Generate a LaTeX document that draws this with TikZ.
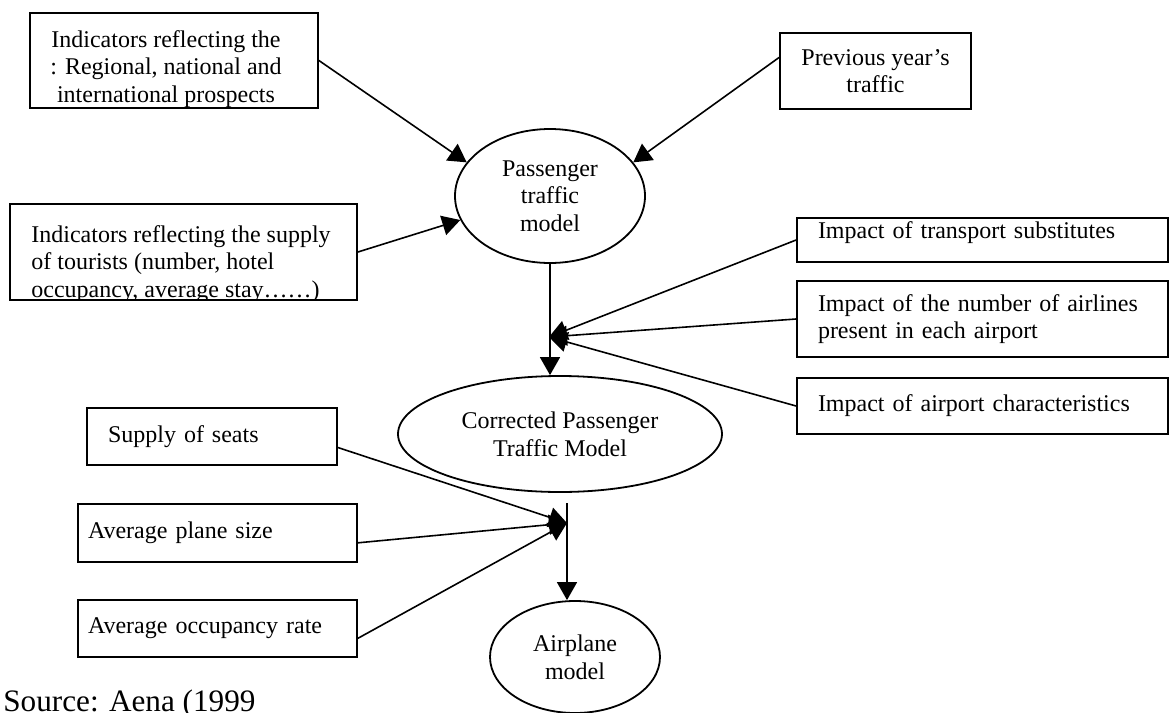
\documentclass[tikz,border=0pt]{standalone}
\usepackage{fontspec}
\setmainfont{Liberation Serif}
\usetikzlibrary{shapes.geometric,arrows.meta,positioning}

\tikzset{
  box/.style={draw, line width=0.9pt, rectangle, inner sep=0pt, font=\fontsize{12}{13.8}\selectfont},
  model/.style={draw, line width=0.9pt, ellipse, inner sep=0pt, align=center, font=\fontsize{12}{13.8}\selectfont},
  boxtext/.style={inner sep=0pt, font=\fontsize{12}{13.8}\selectfont},
  feed/.style={line width=0.8pt, -{Triangle[length=9pt,width=10pt]}}
}

\begin{document}
\begin{tikzpicture}[x=0.5pt,y=-0.5pt]
\useasboundingbox (0,0) rectangle (1169,713);

%% inputs of the passenger traffic model
\node[box, minimum width=144pt, minimum height=47.5pt] (regional) at (174,60.5) {};
\begin{scope}
  \clip (regional.north west) rectangle (regional.south east);
  \node[boxtext, anchor=north, align=center] (regionaltxt) at (166,30)
    {Indicators reflecting the\\: Regional, national and\\international prospects};
\end{scope}
\node[box, minimum width=95.5pt, minimum height=38pt, align=center] (prevyear) at (875.5,71)
  {Previous year’s\\traffic};
\node[box, minimum width=173.5pt, minimum height=48pt] (tourism) at (183.5,252) {};
\begin{scope}
  \clip (tourism.north west) rectangle (tourism.south east);
  \node[boxtext, anchor=north west, align=left] (tourismtxt) at (31,225)
    {Indicators reflecting the supply\\of tourists (number, hotel\\occupancy, average stay……)};
\end{scope}

\node[model, minimum width=95pt, minimum height=67pt] (paxmodel) at (550,196) {Passenger\\traffic\\model};

%% corrections
\node[box, minimum width=185.5pt, minimum height=22pt, inner xsep=10.5pt, text width=164.5pt, align=left, text depth=10pt] (transsub) at (982.5,240)
  {Impact of transport substitutes};
\node[box, minimum width=185.5pt, minimum height=38pt, inner xsep=10.5pt, text width=164.5pt, align=left] (airlines) at (982.5,319)
  {Impact of the number of airlines\\present in each airport};
\node[box, minimum width=185.5pt, minimum height=28pt, inner xsep=10.5pt, text width=164.5pt, align=left] (airportchar) at (982.5,406)
  {Impact of airport characteristics};

\node[model, minimum width=162pt, minimum height=58pt] (corrmodel) at (560,434) {Corrected Passenger\\Traffic Model};

%% airplane model
\node[box, minimum width=125pt, minimum height=28.5pt, inner xsep=10.5pt, text width=104pt, align=left] (seats) at (212,436.5)
  {Supply of seats};
\node[box, minimum width=139.5pt, minimum height=29pt, inner xsep=5pt, text width=129.5pt, align=left] (planesize) at (217.5,533)
  {Average plane size};
\node[box, minimum width=139.5pt, minimum height=28.5pt, inner xsep=5pt, text width=129.5pt, align=left] (occupancy) at (217.5,628.5)
  {Average occupancy rate};

\node[model, minimum width=85pt, minimum height=56pt] (airplane) at (575,657) {Airplane\\model};

\node[anchor=base west, inner sep=0pt, font=\fontsize{15.6}{18}\selectfont] (source) at (3,711) {Source: Aena (1999};

\coordinate (corrin) at (549,337);
\coordinate (planetop) at (567,503);
\coordinate (planein) at (567,523);

% connectors
\draw[feed] (regional.east) -- (paxmodel.158);
\draw[feed] (prevyear.172) -- (paxmodel.22);
\draw[feed] (tourism.east) -- (paxmodel.195);
\draw[feed] (paxmodel.south) -- (paxmodel.south |- corrmodel.north);

\draw[feed] (transsub.west) -- (corrin);
\draw[feed] (airlines.west) -- (corrin);
\draw[feed] (airportchar.west) -- (corrin);

\draw[feed] (planetop) -- (planetop |- airplane.north);
\draw[feed] (seats.-5) -- (planein);
\draw[feed] (planesize.-4) -- (planein);
\draw[feed] (occupancy.-4) -- (planein);
\end{tikzpicture}
\end{document}
